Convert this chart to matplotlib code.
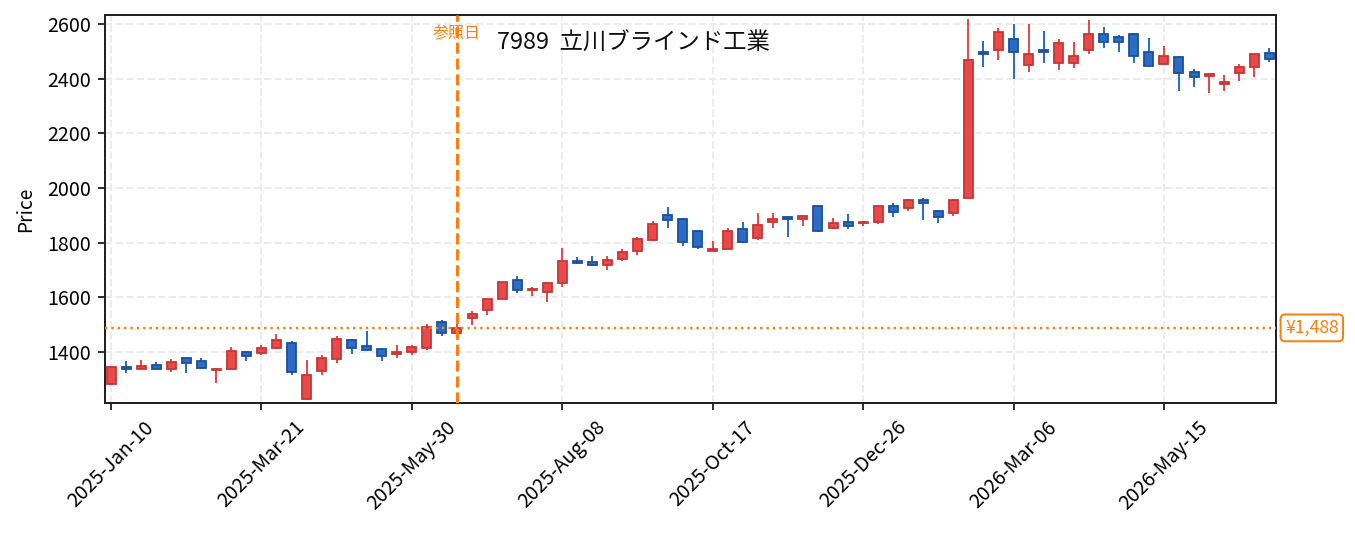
"""
Weekly candlestick chart for 7989 (立川ブラインド工業) with reference-date marker.
"""

import matplotlib
matplotlib.use("Agg")
import matplotlib.pyplot as plt
import pandas as pd

plt.rcParams["font.family"] = ["Noto Sans CJK JP", "DejaVu Sans"]

TICKER = "7989"
NAME = "立川ブラインド工業"
START = "2025-01-10"
REF_DATE = "2025-06-20"
REF_PRICE = 1488

opens = [1282, 1343, 1337, 1351, 1336, 1377, 1366, 1332, 1339, 1401,
         1395, 1414, 1432, 1227, 1330, 1375, 1445, 1421, 1409, 1392,
         1399, 1414, 1508, 1468, 1523, 1553, 1595, 1662, 1625, 1619,
         1651, 1733, 1729, 1717, 1739, 1770, 1810, 1900, 1888, 1844,
         1770, 1776, 1851, 1816, 1875, 1895, 1887, 1933, 1853, 1877,
         1870, 1875, 1935, 1927, 1957, 1917, 1909, 1964, 2498, 2505,
         2546, 2450, 2506, 2457, 2457, 2505, 2565, 2554, 2565, 2499,
         2453, 2481, 2423, 2409, 2381, 2421, 2443, 2495]
highs = [1347, 1367, 1371, 1364, 1375, 1378, 1377, 1340, 1418, 1402,
         1426, 1466, 1440, 1371, 1388, 1458, 1446, 1477, 1410, 1426,
         1426, 1501, 1517, 1501, 1548, 1594, 1656, 1678, 1638, 1652,
         1781, 1748, 1751, 1751, 1776, 1821, 1879, 1931, 1889, 1845,
         1806, 1854, 1876, 1909, 1909, 1896, 1900, 1934, 1889, 1904,
         1879, 1936, 1945, 1958, 1964, 1918, 1958, 2618, 2538, 2584,
         2600, 2600, 2574, 2544, 2534, 2615, 2589, 2560, 2566, 2548,
         2520, 2482, 2434, 2418, 2413, 2454, 2492, 2512]
lows = [1281, 1324, 1336, 1336, 1327, 1321, 1339, 1288, 1338, 1368,
        1387, 1410, 1317, 1226, 1314, 1361, 1394, 1405, 1368, 1379,
        1387, 1407, 1460, 1466, 1499, 1536, 1593, 1616, 1605, 1584,
        1636, 1720, 1716, 1698, 1734, 1756, 1806, 1855, 1789, 1778,
        1769, 1775, 1800, 1811, 1855, 1822, 1859, 1840, 1848, 1851,
        1859, 1867, 1895, 1914, 1883, 1870, 1899, 1962, 2444, 2470,
        2400, 2426, 2456, 2433, 2440, 2492, 2513, 2498, 2459, 2445,
        2449, 2353, 2371, 2349, 2356, 2393, 2407, 2460]
closes = [1346, 1339, 1348, 1337, 1362, 1359, 1340, 1339, 1403, 1384,
          1416, 1442, 1326, 1314, 1377, 1449, 1414, 1406, 1384, 1399,
          1417, 1490, 1469, 1488, 1538, 1593, 1655, 1626, 1631, 1651,
          1732, 1725, 1717, 1736, 1765, 1812, 1867, 1883, 1801, 1783,
          1778, 1842, 1804, 1864, 1886, 1887, 1899, 1842, 1873, 1860,
          1876, 1935, 1912, 1957, 1945, 1894, 1957, 2470, 2492, 2572,
          2498, 2492, 2498, 2532, 2484, 2565, 2534, 2534, 2483, 2446,
          2484, 2421, 2406, 2417, 2388, 2444, 2492, 2472]

UP_FACE, UP_EDGE = "#e84a4a", "#c93434"
DOWN_FACE, DOWN_EDGE = "#2b6cc4", "#1c4e9e"
ORANGE = "#ff7f0e"
DPI = 144


def main() -> None:
    df = pd.DataFrame({"open": opens, "high": highs, "low": lows, "close": closes})
    df["date"] = pd.date_range(START, periods=len(df), freq="W-FRI")
    x = list(range(len(df)))
    up = df["close"] >= df["open"]

    fig = plt.figure(figsize=(1355 / DPI, 533 / DPI), dpi=DPI)
    ax = fig.add_axes([0.0775, 0.2439, 0.8642, 0.728])

    wick_colors = [UP_FACE if u else DOWN_FACE for u in up]
    ax.vlines(x, df["low"], df["high"], colors=wick_colors, linewidth=1.0, zorder=2)

    bottoms = df[["open", "close"]].min(axis=1)
    heights = (df["close"] - df["open"]).abs().clip(lower=2)
    ax.bar(x, heights, bottom=bottoms, width=0.6,
           color=[UP_FACE if u else DOWN_FACE for u in up],
           edgecolor=[UP_EDGE if u else DOWN_EDGE for u in up],
           linewidth=0.9, zorder=3)

    ref_idx = int(df.index[df["date"] == pd.Timestamp(REF_DATE)][0])
    ax.axvline(ref_idx, color=ORANGE, linestyle="--", linewidth=1.5, zorder=4)
    ax.axhline(REF_PRICE, color=ORANGE, linestyle=":", linewidth=1.2, zorder=4)

    ax.text(ref_idx, 0.951, "参照日", transform=ax.get_xaxis_transform(),
            ha="center", va="center", fontsize=8, color=ORANGE, zorder=5)
    ax.text(0.335, 0.93, f"{TICKER}  {NAME}", transform=ax.transAxes,
            ha="left", va="center", fontsize=11.7, color="#111")

    ax.annotate(f"¥{REF_PRICE:,}", xy=(1.0, REF_PRICE),
                xycoords=("axes fraction", "data"),
                xytext=(4.5, 0), textcoords="offset points",
                ha="left", va="center", fontsize=8.8, color=ORANGE,
                bbox=dict(boxstyle="round,pad=0.25", fc="white", ec=ORANGE, lw=1.0),
                annotation_clip=False)

    ticks = x[::10]
    ax.set_xticks(ticks)
    ax.set_xticklabels(df["date"].iloc[ticks].dt.strftime("%Y-%b-%d"),
                       rotation=45, fontsize=9.8)
    ax.set_yticks(range(1400, 2601, 200))
    ax.tick_params(axis="y", labelsize=9.8)
    ax.set_xlim(-0.4, 77.45)
    ax.set_ylim(1213, 2633)
    ax.set_ylabel("Price", fontsize=9.6)
    ax.yaxis.set_label_coords(-0.0586, 0.5)

    ax.grid(True, linestyle="--", color="#ececec", linewidth=1.0)
    ax.set_axisbelow(True)
    for s in ax.spines.values():
        s.set_color("#222")
        s.set_linewidth(1.0)

    fig.savefig("out.png", dpi=DPI)
    plt.close(fig)


if __name__ == "__main__":
    main()
